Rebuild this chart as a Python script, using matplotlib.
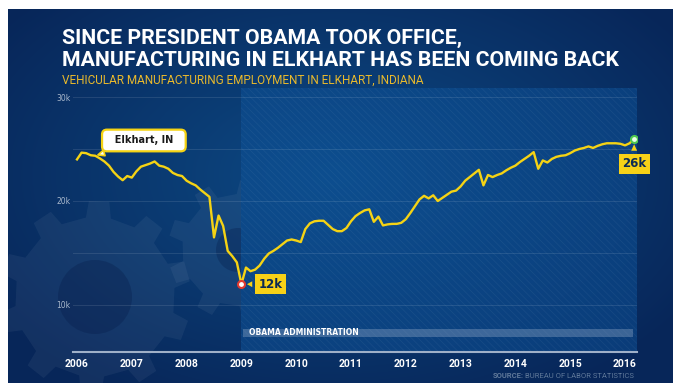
import numpy as np
import pandas as pd
import matplotlib.pyplot as plt
from matplotlib.patches import Rectangle, Polygon, Circle

# vehicular manufacturing employment in Elkhart, thousands, monthly
months = pd.date_range('2006-01-01', periods=123, freq='MS')
employment = [
    24.0, 24.65, 24.6, 24.4, 24.35, 24.1, 23.8, 23.4, 22.8, 22.35, 22.0, 22.4,
    22.25, 22.85, 23.3, 23.45, 23.6, 23.8, 23.4, 23.3, 23.1, 22.7, 22.5, 22.4,
    21.95, 21.7, 21.5, 21.1, 20.75, 20.4, 16.5, 18.6, 17.6, 15.2, 14.7, 14.1,
    12.0, 13.6, 13.25, 13.4, 13.8, 14.45, 14.95, 15.2, 15.5, 15.85, 16.2, 16.3,
    16.2, 16.05, 17.3, 17.85, 18.05, 18.1, 18.1, 17.7, 17.3, 17.1, 17.1, 17.4,
    18.05, 18.55, 18.85, 19.1, 19.2, 18.0, 18.5, 17.65, 17.75, 17.8, 17.8, 17.9,
    18.25, 18.85, 19.5, 20.15, 20.5, 20.25, 20.55, 20.0, 20.3, 20.6, 20.9, 21.0,
    21.4, 21.95, 22.3, 22.65, 23.0, 21.5, 22.5, 22.3, 22.5, 22.65, 22.95, 23.2,
    23.4, 23.75, 24.05, 24.35, 24.7, 23.1, 23.9, 23.7, 24.05, 24.25, 24.35, 24.4,
    24.6, 24.85, 25.0, 25.1, 25.25, 25.1, 25.3, 25.45, 25.55, 25.55, 25.55, 25.5,
    25.35, 25.55, 26.0,
]
year_ticks = list(range(2006, 2017))
y_ticks = [10, 20, 30]
y_tick_labels = ['10k', '20k', '30k']
grid_levels = [10, 15, 20, 25, 30]
obama_start = 2009
low_label = '12k'
last_label = '26k'

YELLOW = '#f5d314'
W, H = 673, 383

x = months.year + (months.month - 1) / 12
emp = np.array(employment)
low_i = int(np.argmin(emp))

fig = plt.figure(figsize=(W / 100, H / 100), dpi=100, facecolor='white')

# background panel in pixel coordinates
bg = fig.add_axes([0, 0, 1, 1])
bg.set_xlim(0, W)
bg.set_ylim(H, 0)
bg.axis('off')

yy, xx = np.mgrid[0:H, 0:W]
d = np.clip(np.sqrt(((xx - 330) / 420) ** 2 + ((yy - 170) / 260) ** 2), 0, 1)[..., None]
c_mid = np.array([0.05, 0.29, 0.52])
c_edge = np.array([0.03, 0.15, 0.35])
img = c_mid * (1 - d) + c_edge * d
bg.imshow(img, extent=(8, W, H, 9), aspect='auto', zorder=0)


def gear(cx, cy, r_body, r_tip, teeth, phase=0.0):
    step = 2 * np.pi / teeth
    pts = []
    for k in range(teeth):
        a = phase + k * step
        for ang, r in [(a, r_body), (a + 0.08 * step, r_tip),
                       (a + 0.42 * step, r_tip), (a + 0.5 * step, r_body)]:
            pts.append((cx + r * np.cos(ang), cy + r * np.sin(ang)))
    return pts


# gears only show left of the Obama band
clip = Rectangle((8, 9), 233, H, transform=bg.transData)
for cx, cy, rb, rt, n, ph, hole in [(95, 297, 80, 96, 10, 0.2, 37),
                                    (238, 250, 56, 70, 9, 0.5, 22)]:
    p = bg.add_patch(Polygon(gear(cx, cy, rb, rt, n, ph), closed=True,
                             fc=(1, 1, 1, 0.05), ec='none', zorder=1))
    p.set_clip_path(clip)
    c = bg.add_patch(Circle((cx, cy), hole, fc=(0.02, 0.1, 0.28, 0.3), ec='none', zorder=1))
    c.set_clip_path(clip)

# titles
bg.text(62, 38, 'SINCE PRESIDENT OBAMA TOOK OFFICE,', family='Roboto',
        fontweight='bold', fontsize=15.3, color='white', va='center')
bg.text(62, 61, 'MANUFACTURING IN ELKHART HAS BEEN COMING BACK', family='Roboto',
        fontweight='bold', fontsize=15.3, color='white', va='center')
bg.text(62, 80, 'VEHICULAR MANUFACTURING EMPLOYMENT IN ELKHART, INDIANA',
        family='Roboto', fontsize=8.5, color='#e9b92c', va='center')

# main chart
ax = fig.add_axes([73 / W, (H - 352) / H, (637 - 73) / W, (352 - 88) / H])
ax.set_facecolor('none')
ax.set_xlim(2006 - 4 / 54.8, 2016 + 12 / 54.8)
ax.set_ylim(30 - (352 - 97) / 10.4, 30 + 9 / 10.4)

plt.rcParams['hatch.linewidth'] = 0.6
ax.add_patch(Rectangle((obama_start, 0), ax.get_xlim()[1] - obama_start, 1,
                       transform=ax.get_xaxis_transform(),
                       fc=(0.05, 0.32, 0.6, 0.5), ec=(1, 1, 1, 0.05), lw=0,
                       hatch='\\\\\\\\\\', zorder=0))
ax.add_patch(Rectangle((obama_start + 0.03, 0.057), 2016.15 - obama_start - 0.03, 0.03,
                       transform=ax.get_xaxis_transform(),
                       fc=(0.7, 0.76, 0.85, 0.3), ec='none', zorder=1))
ax.text(obama_start + 0.13, 0.072, 'OBAMA ADMINISTRATION', transform=ax.get_xaxis_transform(),
        fontsize=5.5, fontweight='bold', color='white', va='center', zorder=2)

for g in grid_levels:
    ax.axhline(g, color=(1, 1, 1, 0.1), lw=0.8, zorder=1)

ax.plot(x, emp, color=YELLOW, lw=1.7, solid_joinstyle='round', zorder=3)
ax.plot(x[low_i], emp[low_i], 'o', ms=5, mfc='white', mec='#e23a2f', mew=1.5, zorder=5)
ax.plot(x[-1], emp[-1], 'o', ms=5, mfc='#eaffea', mec='#4fc94f', mew=1.5, zorder=5)

ax.annotate('  Elkhart, IN  ', xy=(x[4], emp[4]), xytext=(35, 11), textcoords='offset points',
            ha='center', va='center', fontsize=7, fontweight='bold', color='#1a1a1a',
            bbox=dict(boxstyle='round,pad=0.6,rounding_size=0.5', fc='white', ec=YELLOW, lw=1.6),
            arrowprops=dict(arrowstyle='wedge,tail_width=0.6', fc='white', ec=YELLOW,
                            lw=1.2, shrinkB=2), zorder=6)
ax.annotate(low_label, xy=(x[low_i], emp[low_i]), xytext=(21, 0), textcoords='offset points',
            ha='center', va='center', fontsize=8.5, fontweight='bold', color='#0b2a55',
            bbox=dict(boxstyle='square,pad=0.3', fc='#f7d117', ec='none'),
            arrowprops=dict(arrowstyle='wedge,tail_width=0.5', fc='#f7d117', ec='none',
                            shrinkB=4), zorder=6)
ax.annotate(last_label, xy=(x[-1], emp[-1]), xytext=(0, -18), textcoords='offset points',
            ha='center', va='center', fontsize=8.5, fontweight='bold', color='#0b2a55',
            bbox=dict(boxstyle='square,pad=0.3', fc='#f7d117', ec='none'),
            arrowprops=dict(arrowstyle='wedge,tail_width=0.5', fc='#f7d117', ec='none',
                            shrinkB=4), zorder=6)

ax.set_xticks(year_ticks)
ax.set_xticklabels([str(y) for y in year_ticks], family='Roboto', fontweight='bold')
ax.set_yticks(y_ticks)
ax.set_yticklabels(y_tick_labels)
ax.tick_params(axis='x', length=0, labelsize=7.5, labelcolor='white', pad=5)
ax.tick_params(axis='y', length=0, labelsize=5.5, labelcolor='#a9b8cc', pad=2)
for side in ['top', 'right', 'left']:
    ax.spines[side].set_visible(False)
ax.spines['bottom'].set_color('#9fb0c8')
ax.spines['bottom'].set_linewidth(1.5)

# source line, bold lead-in placed against the regular part
src = bg.text(634, 376, 'BUREAU OF LABOR STATISTICS', fontsize=5.5, color='#5f7899',
              ha='right', va='center', family='Roboto')
fig.canvas.draw()
bb = src.get_window_extent()
x0 = bg.transData.inverted().transform((bb.x0, bb.y0))[0]
bg.text(x0 - 1, 376, 'SOURCE:', fontsize=5.5, color='#5f7899', fontweight='bold',
        ha='right', va='center', family='Roboto')

fig.savefig('out.png', dpi=100, facecolor='white')
